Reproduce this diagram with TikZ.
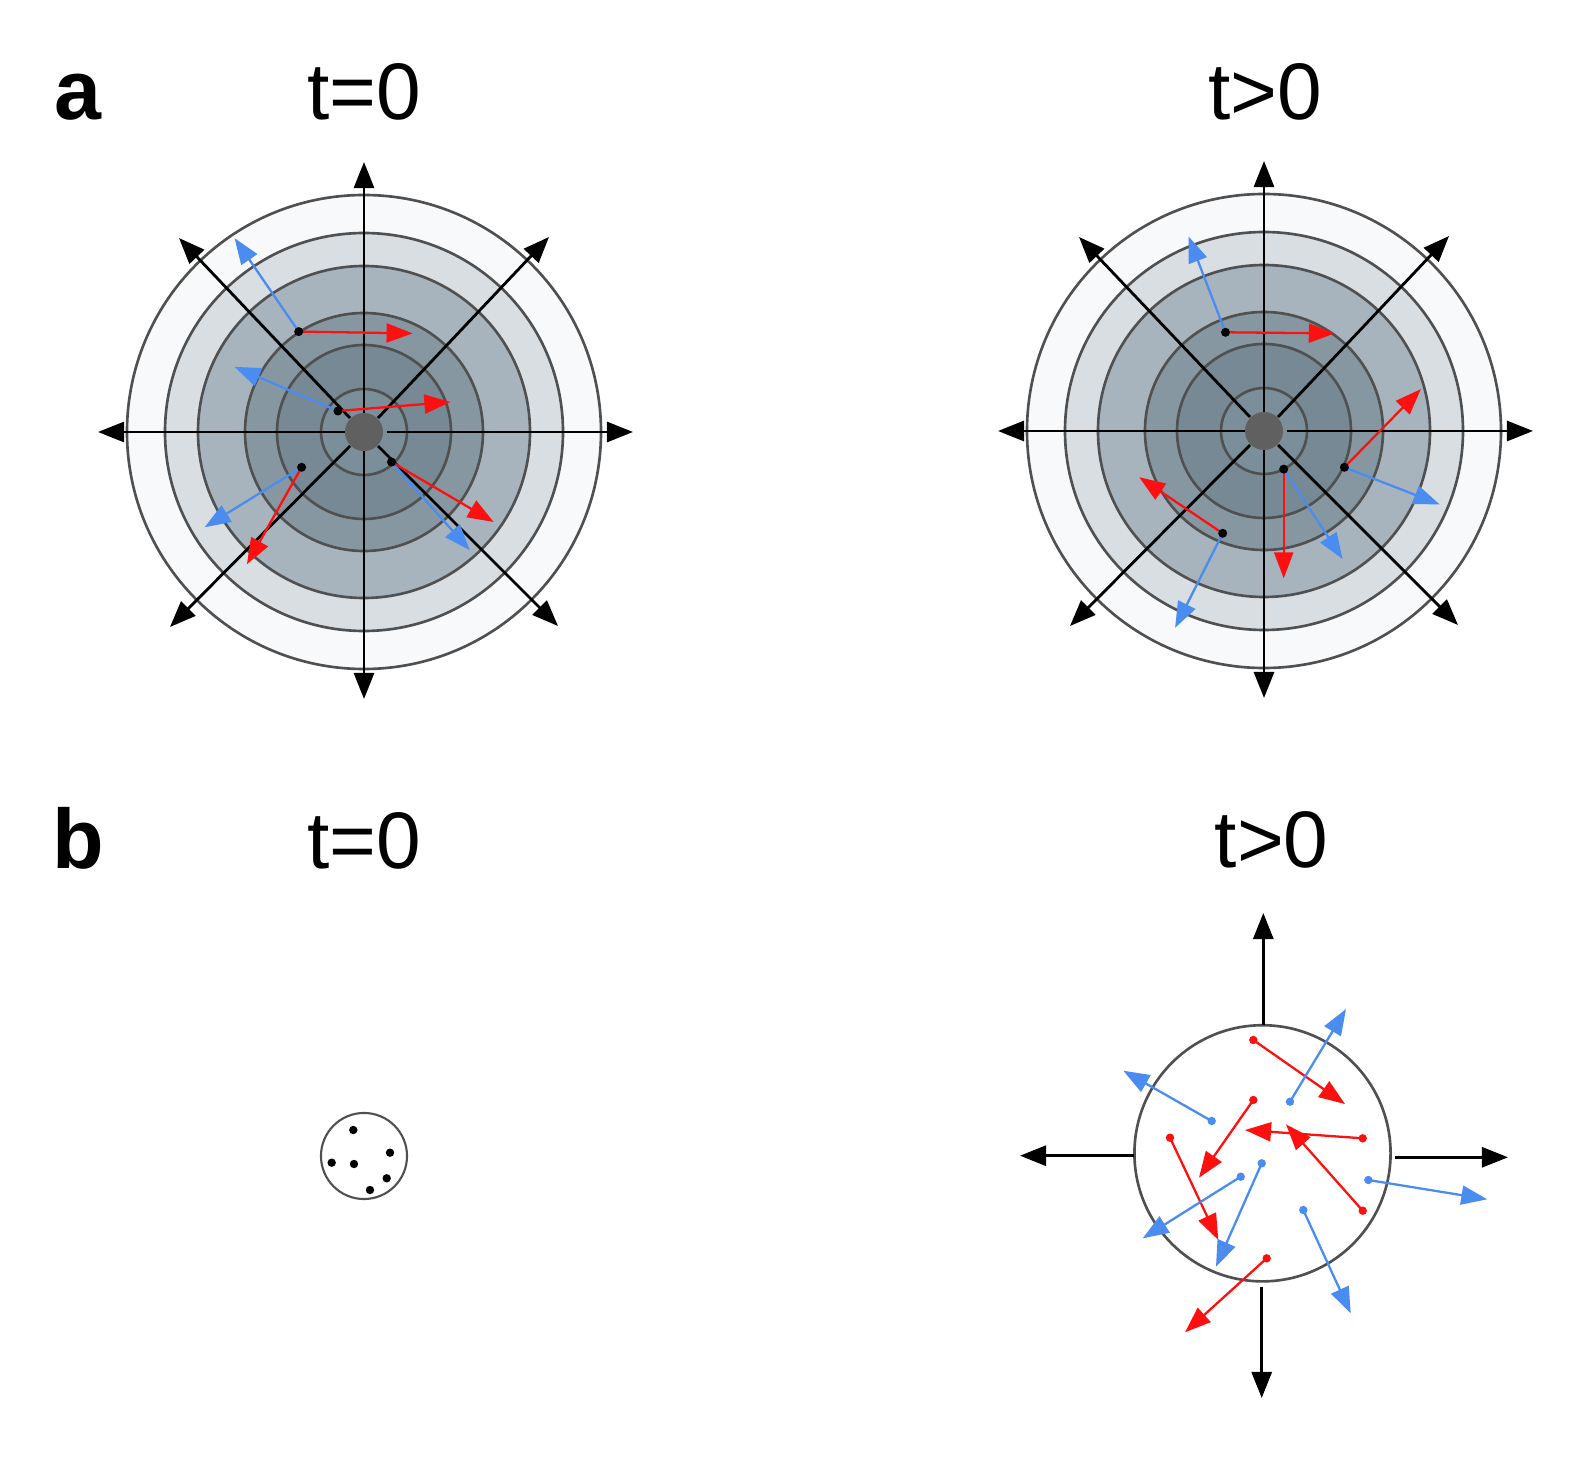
\documentclass[tikz,border=0pt]{standalone}
\usepackage{fontspec}
\setmainfont{Liberation Sans}
\usetikzlibrary{arrows.meta}
\definecolor{cA}{HTML}{F7F9FB}
\definecolor{cB}{HTML}{D8DEE2}
\definecolor{cC}{HTML}{A7B4BD}
\definecolor{cD}{HTML}{8697A2}
\definecolor{cE}{HTML}{768994}
\definecolor{cF}{HTML}{7B8F9A}
\definecolor{ringc}{HTML}{505050}
\definecolor{dotgray}{HTML}{606060}
\definecolor{redc}{HTML}{FF1010}
\definecolor{bluec}{HTML}{4A8CF0}
\tikzset{
  ring/.style={draw=ringc, line width=0.75pt},
  axis/.style={black, line width=0.8pt, -{Triangle[length=0.26cm,width=0.2cm]}},
  redarr/.style={draw=redc, line width=0.65pt, -{Triangle[length=0.26cm,width=0.19cm]}},
  bluearr/.style={draw=bluec, line width=0.65pt, -{Triangle[length=0.26cm,width=0.19cm]}},
  lbl/.style={inner sep=0pt, anchor=base, font=\fontsize{22.8}{27}\selectfont},
  plbl/.style={inner sep=0pt, anchor=base, font=\fontsize{24}{29}\selectfont\bfseries}
}
\begin{document}
\begin{tikzpicture}[x=0.01cm,y=-0.01cm]
\useasboundingbox (0,0) rectangle (1572,1458);
\fill[white] (0,0) rectangle (1572,1458);

% labels
\node[plbl] (la) at (77.5,120) {a};
\node[lbl] (ta0) at (364,120) {t=0};
\node[lbl] (ta1) at (1265,120) {t>0};
\node[plbl] (lb) at (78,868) {b};
\node[lbl] (tb0) at (364,868) {t=0};
\node[lbl] (tb1) at (1271.7,867) {t>0};

% panel a: two ringed spheres
\coordinate (cL) at (364,432);
\coordinate (cR) at (1264,431);
\foreach \cc in {cL,cR}{
  \begin{scope}[shift={(\cc)}]
    \foreach \r/\col in {237/cA,199/cB,166/cC,119/cD,87/cE,43/cF}{
      \filldraw[fill=\col, ring] (0,0) circle[radius=\r*0.01cm];
    }
    \draw[axis] (23,0) -- (269,0);
    \draw[axis] (-19,0) -- (-266,0);
    \draw[axis] (0,-19) -- (0,-270);
    \draw[axis] (0,19) -- (0,267);
    \draw[axis] (-14,-14) -- (-185,-194);
    \draw[axis] (14,-14) -- (185,-195);
    \draw[axis] (-14,14) -- (-194,195);
    \draw[axis] (14,14) -- (194,194);
    \fill[dotgray] (0,0) circle[radius=0.19cm];
  \end{scope}
}

% panel a left: colored arrows
\coordinate (p1) at (298.7,331.6);
\coordinate (p2) at (337.9,411);
\coordinate (p3) at (301.6,467.3);
\coordinate (p4) at (391.5,462);
\draw[redarr] (p1) -- (412.6,333.4);
\draw[bluearr] (p1) -- (234.6,238.2);
\draw[redarr] (p2) -- (450.4,402);
\draw[bluearr] (p2) -- (234.6,366.9);
\draw[bluearr] (p3) -- (204.6,527.3);
\draw[redarr] (p3) -- (246.9,564.3);
\draw[bluearr] (p4) -- (469.8,550.2);
\draw[redarr] (p4) -- (493.7,522);
\foreach \p in {p1,p2,p3,p4} \fill[black] (\p) circle[radius=0.045cm];

% panel a right: colored arrows
\coordinate (q1) at (1225.5,332.3);
\coordinate (q2) at (1344.4,467.3);
\coordinate (q3) at (1283.7,469.1);
\coordinate (q4) at (1222.7,533.3);
\draw[redarr] (q1) -- (1334.8,333.4);
\draw[bluearr] (q1) -- (1188.5,236.4);
\draw[redarr] (q2) -- (1420.9,389.1);
\draw[bluearr] (q2) -- (1439.6,504.4);
\draw[redarr] (q3) -- (1283.7,578.4);
\draw[bluearr] (q3) -- (1342.6,559);
\draw[redarr] (q4) -- (1139.2,477.2);
\draw[bluearr] (q4) -- (1175.1,627.8);
\foreach \p in {q1,q2,q3,q4} \fill[black] (\p) circle[radius=0.045cm];

% panel b left: small sphere with particles
\coordinate (cS) at (364,1156);
\draw[ring, line width=0.6pt] (cS) circle[radius=0.43cm];
\foreach \x/\y in {353.3/1130, 390/1152.7, 331.7/1162.7, 354/1164, 386.7/1178.3, 370/1190}
  \fill[black] (\x,\y) circle[radius=0.042cm];

% panel b right: expanding sphere
\coordinate (cB2) at (1262.5,1153.3);
\draw[ring] (cB2) circle[radius=1.28cm];
\draw[axis] (1263.3,1025) -- (1263.3,913);
\draw[axis] (1261.7,1287) -- (1261.7,1398);
\draw[axis] (1134.3,1155.7) -- (1020,1155.7);
\draw[axis] (1395,1157.3) -- (1508,1157.3);

% red particles
\coordinate (r1) at (1253.3,1040);
\coordinate (r2) at (1253.3,1100);
\coordinate (r3) at (1362.7,1138.3);
\coordinate (r4) at (1362.7,1210.7);
\coordinate (r5) at (1170,1137.7);
\coordinate (r6) at (1266.7,1258.3);
\draw[redarr] (r1) -- (1345,1104);
\draw[redarr] (r2) -- (1199,1177.7);
\draw[redarr] (r3) -- (1245,1130);
\draw[redarr] (r4) -- (1286,1124.3);
\draw[redarr] (r5) -- (1218.3,1240);
\draw[redarr] (r6) -- (1185,1332.3);
\foreach \p in {r1,r2,r3,r4,r5,r6} \fill[redc] (\p) circle[radius=0.042cm];

% blue particles
\coordinate (b1) at (1290,1101.7);
\coordinate (b2) at (1211.7,1121);
\coordinate (b3) at (1240.7,1176.7);
\coordinate (b4) at (1261.7,1163.3);
\coordinate (b5) at (1368.3,1180);
\coordinate (b6) at (1303.3,1210);
\draw[bluearr] (b1) -- (1346,1009);
\draw[bluearr] (b2) -- (1123.3,1070.7);
\draw[bluearr] (b3) -- (1142.7,1238.3);
\draw[bluearr] (b4) -- (1216,1266.7);
\draw[bluearr] (b5) -- (1487.3,1199.3);
\draw[bluearr] (b6) -- (1350.7,1313.3);
\foreach \p in {b1,b2,b3,b4,b5,b6} \fill[bluec] (\p) circle[radius=0.042cm];
\end{tikzpicture}
\end{document}
